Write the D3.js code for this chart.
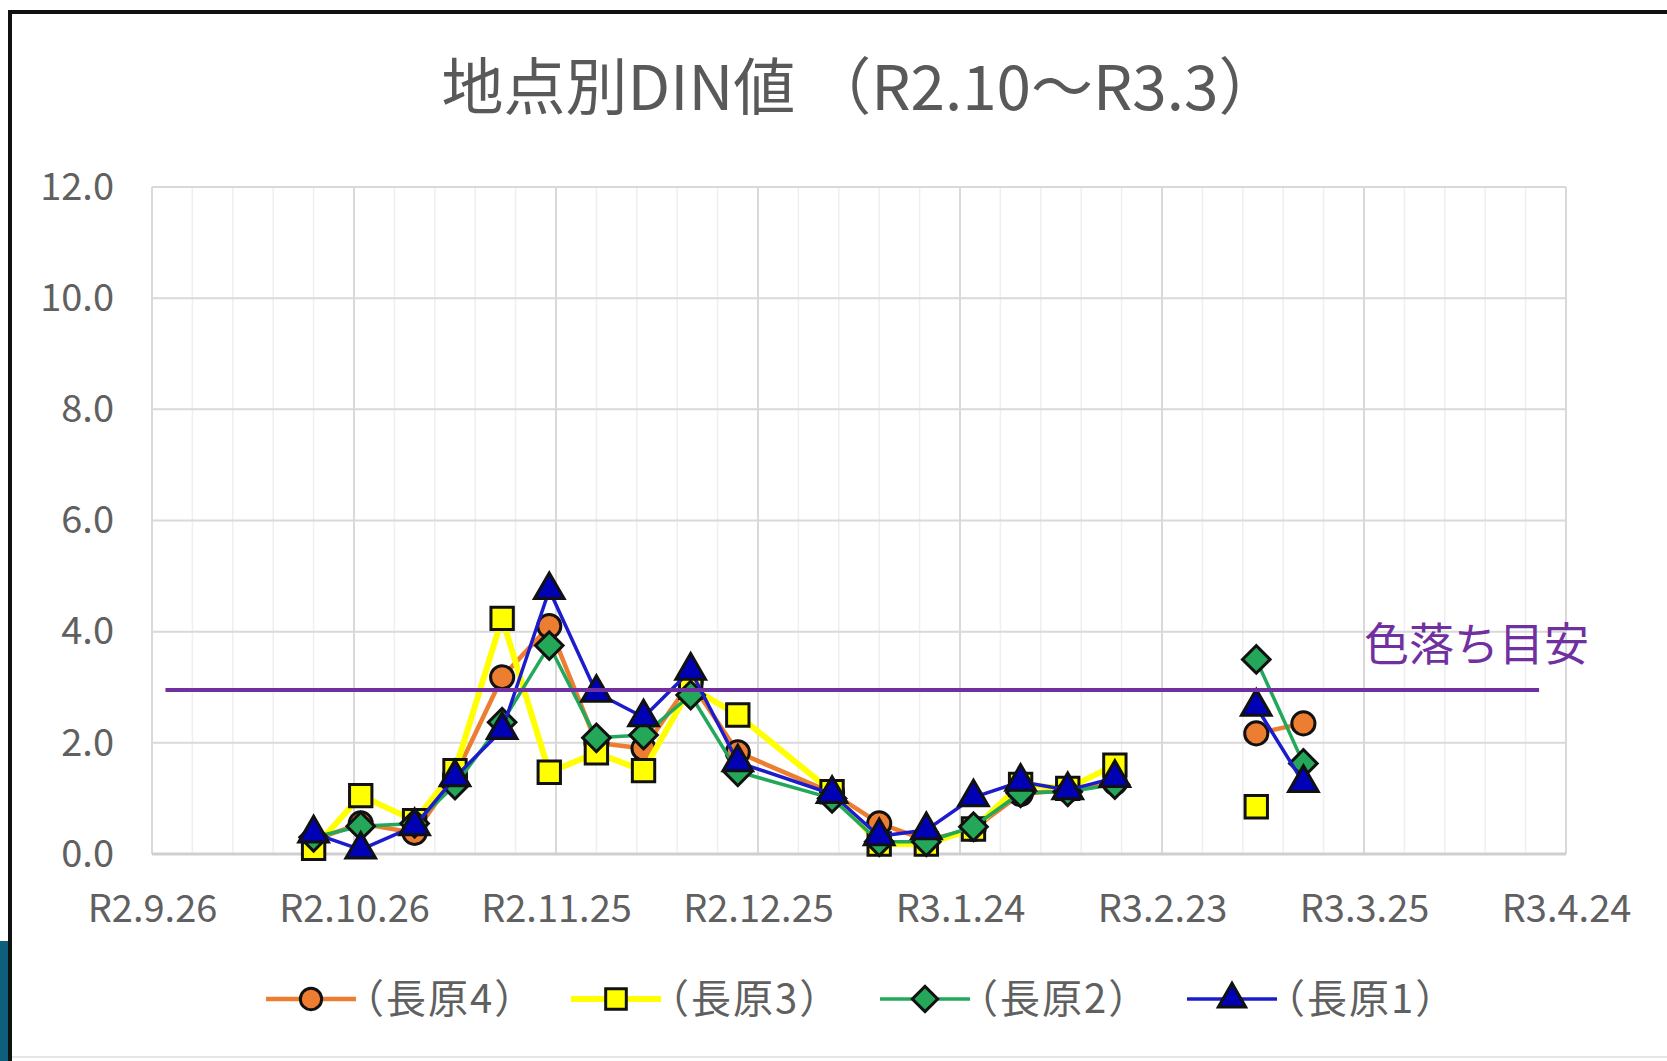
<!DOCTYPE html>
<html>
<head>
<meta charset="utf-8">
<script src="https://cdn.jsdelivr.net/npm/d3@7"></script>
<style>
  body { margin: 0; background: #fff; }
  text { font-family: "Noto Sans CJK JP", "Noto Sans", sans-serif; }
</style>
</head>
<body>
<div id="chart"></div>
<script>
// sampling dates (empty weeks keep the line broken)
var dates = ["2020-10-20", "2020-10-27", "2020-11-04", "2020-11-10", "2020-11-17", "2020-11-24",
    "2020-12-01", "2020-12-08", "2020-12-15", "2020-12-22", "2021-01-05", "2021-01-12",
    "2021-01-19", "2021-01-26", "2021-02-02", "2021-02-09", "2021-02-16", "2021-02-23",
    "2021-03-02", "2021-03-09", "2021-03-16"];

var nagahara4 = [0.25, 0.55, 0.38, 1.40, 3.18, 4.10, 2.00, 1.90, 3.10, 1.83, 1.10, 0.55,
    0.25, 0.45, 1.08, 1.15, 1.28, null, null, 2.17, 2.35];
var nagahara3 = [0.10, 1.05, 0.60, 1.50, 4.24, 1.47, 1.82, 1.50, 3.00, 2.50, 1.12, 0.18,
    0.18, 0.45, 1.25, 1.18, 1.60, null, null, 0.85, null];
var nagahara2 = [0.30, 0.50, 0.55, 1.24, 2.37, 3.75, 2.09, 2.14, 2.86, 1.48, 1.00, 0.22,
    0.22, 0.49, 1.10, 1.12, 1.25, null, null, 3.50, 1.63];
var nagahara1 = [0.37, 0.08, 0.50, 1.38, 2.23, 4.75, 2.90, 2.46, 3.30, 1.65, 1.08, 0.32,
    0.43, 1.02, 1.30, 1.15, 1.37, null, null, 2.65, 1.28];

var seriesNames = ["（長原4）", "（長原3）", "（長原2）", "（長原1）"];

var xTickDates = ["2020-09-26", "2020-10-26", "2020-11-25", "2020-12-25", "2021-01-24",
    "2021-02-23", "2021-03-25", "2021-04-24"];
var yTicks = [0, 2, 4, 6, 8, 10, 12];

// 色落ち目安 reference line
var thresholdValue = 2.95;
var thresholdFrom = "2020-09-28", thresholdTo = "2021-04-20";

var parse = d3.timeParse("%Y-%m-%d");

var W = 1667, H = 1061;
var margin = { top: 187, right: 101, bottom: 207, left: 152 },
    width = W - margin.left - margin.right,
    height = H - margin.top - margin.bottom;

var svg = d3.select("#chart").append("svg")
    .attr("width", W)
    .attr("height", H);

svg.append("rect").attr("width", W).attr("height", H).attr("fill", "#fff");

// screenshot frame
svg.append("path")
    .attr("d", "M10," + H + "V12H" + W)
    .attr("fill", "none")
    .attr("stroke", "#111")
    .attr("stroke-width", 4);
svg.append("rect")
    .attr("x", 0).attr("y", 941).attr("width", 8).attr("height", H - 941)
    .attr("fill", "#0d5f7c");
svg.append("line")
    .attr("x1", 12).attr("x2", W).attr("y1", 1057).attr("y2", 1057)
    .attr("stroke", "#e6e6e6").attr("stroke-width", 2);

var xScale = d3.scaleTime()
    .domain([parse(xTickDates[0]), parse(xTickDates[xTickDates.length - 1])])
    .range([0, width]);

var yScale = d3.scaleLinear()
    .domain([0, 12])
    .range([height, 0]);

var plot = svg.append("g")
    .attr("transform", "translate(" + margin.left + "," + margin.top + ")");

// minor vertical grid, every 6 days
var minor = d3.timeDay.every(1).range(xScale.domain()[0], d3.timeDay.offset(xScale.domain()[1], 1))
    .filter(function(d, i) { return i % 6 == 0; });

plot.selectAll(".minor")
    .data(minor)
    .enter().append("line")
    .attr("class", "minor")
    .attr("x1", function(d) { return xScale(d); })
    .attr("x2", function(d) { return xScale(d); })
    .attr("y1", 0)
    .attr("y2", height)
    .attr("stroke", "#efefef")
    .attr("stroke-width", 1.5);

plot.selectAll(".vmajor")
    .data(xTickDates)
    .enter().append("line")
    .attr("class", "vmajor")
    .attr("x1", function(d) { return xScale(parse(d)); })
    .attr("x2", function(d) { return xScale(parse(d)); })
    .attr("y1", 0)
    .attr("y2", height)
    .attr("stroke", "#d9d9d9")
    .attr("stroke-width", 2);

plot.selectAll(".hmajor")
    .data(yTicks)
    .enter().append("line")
    .attr("class", "hmajor")
    .attr("x1", 0)
    .attr("x2", width)
    .attr("y1", function(d) { return yScale(d); })
    .attr("y2", function(d) { return yScale(d); })
    .attr("stroke", function(d) { return d == 0 ? "#cfcfcf" : "#d9d9d9"; })
    .attr("stroke-width", function(d) { return d == 0 ? 3 : 2; });

// axes (labels only)
var yAxis = d3.axisLeft(yScale)
    .tickValues(yTicks)
    .tickFormat(d3.format(".1f"))
    .tickSize(0)
    .tickPadding(38);

plot.append("g").call(yAxis)
    .call(function(g) { g.select(".domain").remove(); })
    .selectAll("text")
    .attr("fill", "#606060")
    .attr("font-size", 38)
    .attr("font-family", "\"Noto Sans CJK JP\", sans-serif");

var xAxis = d3.axisBottom(xScale)
    .tickValues(xTickDates.map(parse))
    .tickFormat(function(d) {
        return "R" + (d.getFullYear() - 2018) + "." + (d.getMonth() + 1) + "." + d.getDate();
    })
    .tickSize(0)
    .tickPadding(41);

plot.append("g")
    .attr("transform", "translate(0," + height + ")")
    .call(xAxis)
    .call(function(g) { g.select(".domain").remove(); })
    .selectAll("text")
    .attr("fill", "#606060")
    .attr("font-size", 38)
    .attr("font-family", "\"Noto Sans CJK JP\", sans-serif");

// series
var series = [
    { name: seriesNames[0], values: nagahara4, color: "#ed7d31", width: 4.5, shape: d3.symbolCircle, fill: "#ed7d31", size: 420, rot: 0 },
    { name: seriesNames[1], values: nagahara3, color: "#ffff00", width: 6, shape: d3.symbolSquare, fill: "#ffff00", size: 500, rot: 0 },
    { name: seriesNames[2], values: nagahara2, color: "#22a85a", width: 3.5, shape: d3.symbolSquare, fill: "#25a75a", size: 380, rot: 45 },
    { name: seriesNames[3], values: nagahara1, color: "#1c1ccc", width: 3.5, shape: d3.symbolTriangle, fill: "#0000b4", size: 380, rot: 0 }
];

var line = d3.line()
    .defined(function(d) { return d.v != null; })
    .x(function(d) { return xScale(d.date); })
    .y(function(d) { return yScale(d.v); });

series.forEach(function(s) {
    var pts = dates.map(function(d, i) { return { date: parse(d), v: s.values[i] }; });
    var g = plot.append("g");
    g.append("path")
        .datum(pts)
        .attr("d", line)
        .attr("fill", "none")
        .attr("stroke", s.color)
        .attr("stroke-width", s.width)
        .attr("stroke-linejoin", "round");
    g.selectAll(".dot")
        .data(pts.filter(function(d) { return d.v != null; }))
        .enter().append("path")
        .attr("class", "dot")
        .attr("d", d3.symbol().type(s.shape).size(s.size))
        .attr("transform", function(d) {
            return "translate(" + xScale(d.date) + "," + yScale(d.v) + ") rotate(" + s.rot + ")";
        })
        .attr("fill", s.fill)
        .attr("stroke", "#111")
        .attr("stroke-width", 3);
});

// threshold
plot.append("line")
    .attr("x1", xScale(parse(thresholdFrom)))
    .attr("x2", xScale(parse(thresholdTo)))
    .attr("y1", yScale(thresholdValue))
    .attr("y2", yScale(thresholdValue))
    .attr("stroke", "#7030a0")
    .attr("stroke-width", 4);

svg.append("text")
    .text("色落ち目安")
    .attr("x", 1364)
    .attr("y", 661)
    .attr("font-size", 45)
    .attr("fill", "#7030a0");

// title
svg.append("text")
    .text("地点別DIN値 （R2.10～R3.3）")
    .attr("x", 861)
    .attr("y", 110)
    .attr("text-anchor", "middle")
    .attr("font-size", 62)
    .attr("fill", "#595959");

// legend
var legendX = [266, 571, 880, 1187];
var legend = svg.selectAll(".legend")
    .data(series)
    .enter().append("g")
    .attr("class", "legend")
    .attr("transform", function(d, i) { return "translate(" + legendX[i] + ",999)"; });

legend.append("line")
    .attr("x1", 0).attr("x2", 90)
    .attr("stroke", function(d) { return d.color; })
    .attr("stroke-width", function(d) { return d.width; });

legend.append("path")
    .attr("d", function(d) { return d3.symbol().type(d.shape).size(d.size * 0.85)(); })
    .attr("transform", function(d) { return "translate(45,0) rotate(" + d.rot + ")"; })
    .attr("fill", function(d) { return d.fill; })
    .attr("stroke", "#111")
    .attr("stroke-width", 3);

legend.append("text")
    .text(function(d) { return d.name; })
    .attr("x", 78)
    .attr("y", 14)
    .attr("font-size", 40)
    .attr("letter-spacing", 2)
    .attr("fill", "#606060");
</script>
</body>
</html>
